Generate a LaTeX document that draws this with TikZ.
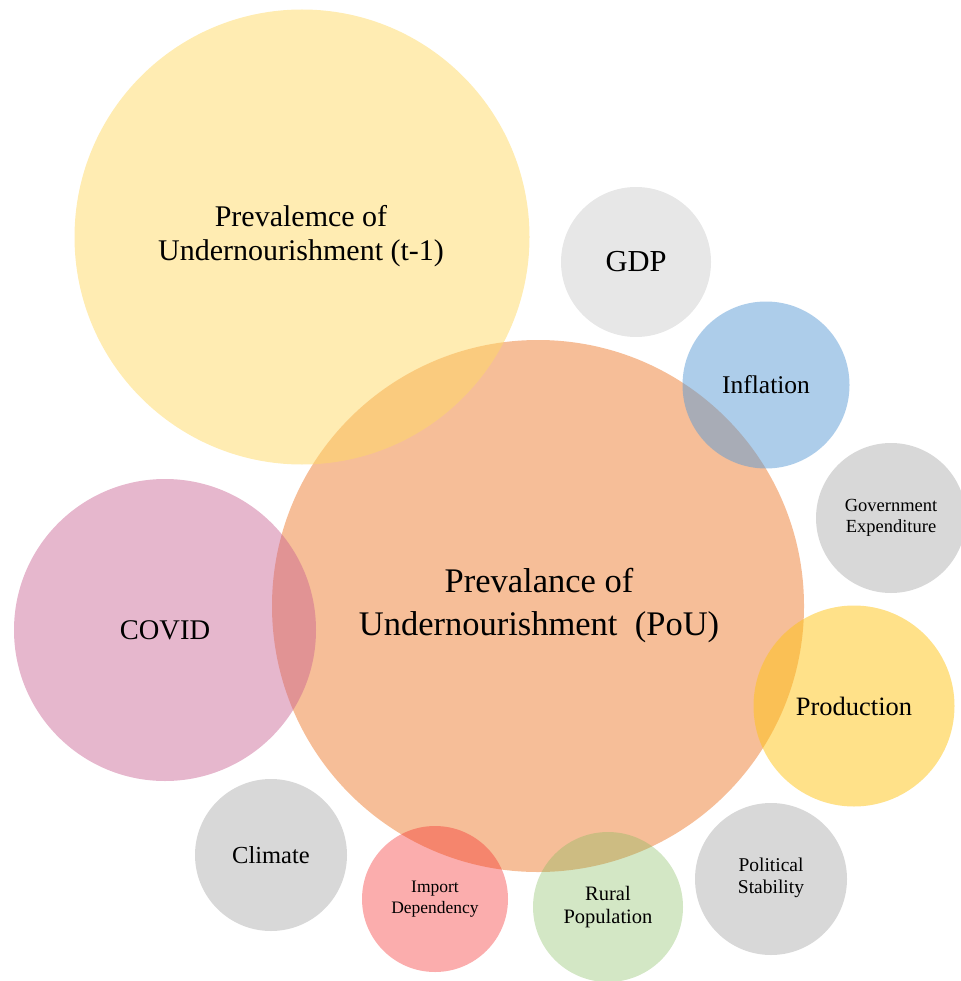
\documentclass[tikz,border=0pt]{standalone}
\usepackage{fontspec}
\setmainfont{Liberation Serif}
\begin{document}
\begin{tikzpicture}[x=1pt,y=-1pt,
  bub/.style={circle,inner sep=0pt,text opacity=1,align=center,text=black},
  yel/.style={fill={rgb,255:red,255;green,217;blue,102},fill opacity=0.5},
  org/.style={fill={rgb,255:red,237;green,125;blue,49},fill opacity=0.5},
  gry/.style={fill={rgb,255:red,200;green,200;blue,200},fill opacity=0.7},
  gryl/.style={fill={rgb,255:red,215;green,215;blue,215},fill opacity=0.6},
  blu/.style={fill={rgb,255:red,91;green,155;blue,213},fill opacity=0.5},
  pnk/.style={fill={rgb,255:red,200;green,95;blue,145},fill opacity=0.45},
  prd/.style={fill={rgb,255:red,255;green,195;blue,20},fill opacity=0.5},
  red/.style={fill={rgb,255:red,245;green,40;blue,40},fill opacity=0.38},
  grn/.style={fill={rgb,255:red,130;green,185;blue,90},fill opacity=0.35}]
\useasboundingbox (0,0) rectangle (960,981);
\node[bub,org,minimum size=532pt] (pou) at (538,606) {};
\node[bub,yel,minimum size=455pt] (prev) at (302,237) {};
\node[bub,gryl,minimum size=150pt] (gdp) at (636,262) {};
\node[bub,blu,minimum size=167pt] (inf) at (766,385) {};
\node[bub,gry,minimum size=150pt] (gov) at (891,518) {};
\node[bub,prd,minimum size=201pt] (prod) at (854,706) {};
\node[bub,gry,minimum size=152pt] (pol) at (771,879) {};
\node[bub,grn,minimum size=150pt] (rur) at (608,907) {};
\node[bub,red,minimum size=146pt] (imp) at (435,899) {};
\node[bub,gry,minimum size=152pt] (cli) at (271,855) {};
\node[bub,pnk,minimum size=302pt] (cov) at (165,630) {};
% labels
\node[align=center,font=\fontsize{30}{34}\selectfont] (tprev) at (301,236) {Prevalemce of\\Undernourishment (t-1)};
\node[align=center,font=\fontsize{34.5}{43}\selectfont] (tpou) at (539,606) {Prevalance of\\Undernourishment\ \ (PoU)};
\node[font=\fontsize{30.5}{32}\selectfont] (tgdp) at (636,262) {GDP};
\node[font=\fontsize{25.5}{26}\selectfont] (tinf) at (766,385) {Inflation};
\node[align=center,font=\fontsize{18.5}{21}\selectfont] (tgov) at (891,518) {Government\\Expenditure};
\node[font=\fontsize{26.5}{26}\selectfont] (tprod) at (854,706) {Production};
\node[align=center,font=\fontsize{19.5}{22}\selectfont] (tpol) at (771,878) {Political\\Stability};
\node[align=center,font=\fontsize{20.5}{23}\selectfont] (trur) at (608,907) {Rural\\Population};
\node[align=center,font=\fontsize{17.5}{21}\selectfont] (timp) at (435,899) {Import\\Dependency};
\node[font=\fontsize{24.5}{26}\selectfont] (tcli) at (271,855) {Climate};
\node[font=\fontsize{28.5}{32}\selectfont] (tcov) at (165,630) {COVID};
\end{tikzpicture}
\end{document}
